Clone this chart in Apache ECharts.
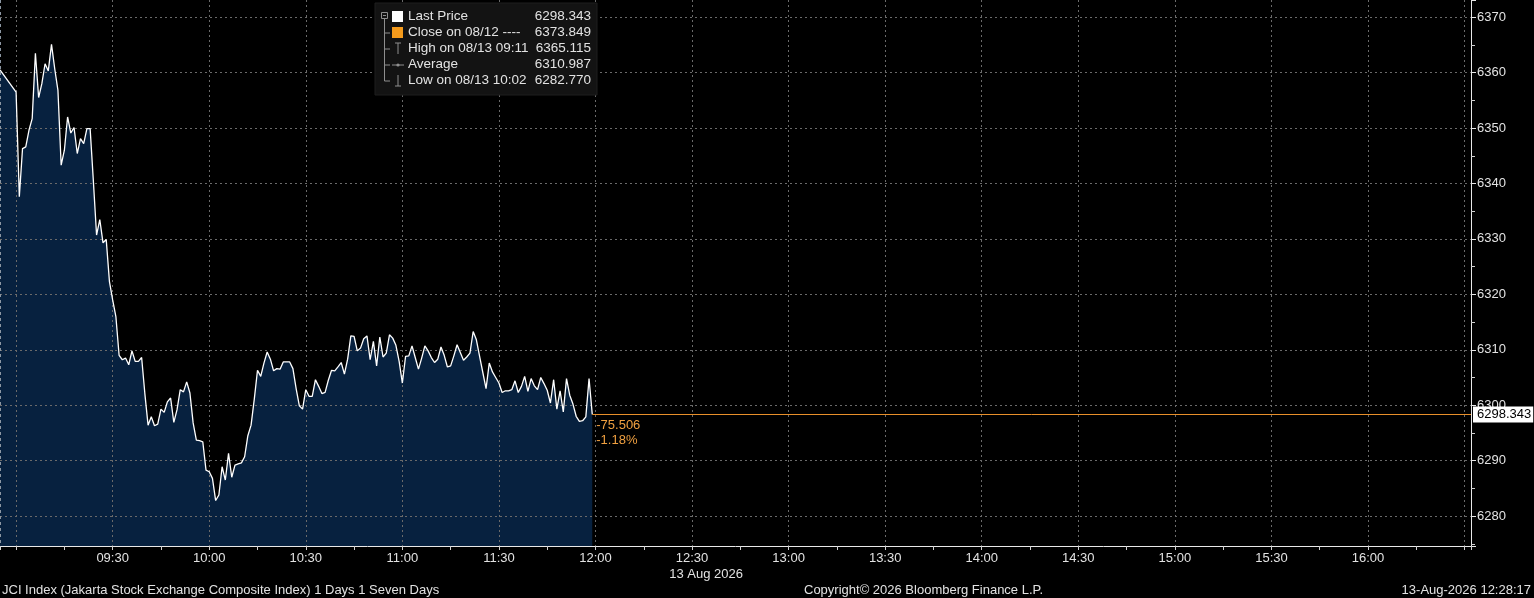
<!DOCTYPE html>
<html><head><meta charset="utf-8">
<script src="https://cdn.jsdelivr.net/npm/echarts@6/dist/echarts.min.js"></script>
<style>html,body{margin:0;padding:0;background:#000;overflow:hidden}#c{width:1534px;height:598px;}</style>
</head><body><div id="c"></div>
<script>
// ---- data ----
const times = [
"08:55","09:00","09:01","09:02","09:03","09:04","09:05","09:06","09:07","09:08","09:09",
"09:10","09:11","09:12","09:13","09:14","09:15","09:16","09:17","09:18","09:19",
"09:20","09:21","09:22","09:23","09:24","09:25","09:26","09:27","09:28","09:29",
"09:30","09:31","09:32","09:33","09:34","09:35","09:36","09:37","09:38","09:39",
"09:40","09:41","09:42","09:43","09:44","09:45","09:46","09:47","09:48","09:49",
"09:50","09:51","09:52","09:53","09:54","09:55","09:56","09:57","09:58","09:59",
"10:00","10:01","10:02","10:03","10:04","10:05","10:06","10:07","10:08","10:09",
"10:10","10:11","10:12","10:13","10:14","10:15","10:16","10:17","10:18","10:19",
"10:20","10:21","10:22","10:23","10:24","10:25","10:26","10:27","10:28","10:29",
"10:30","10:31","10:32","10:33","10:34","10:35","10:36","10:37","10:38","10:39",
"10:40","10:41","10:42","10:43","10:44","10:45","10:46","10:47","10:48","10:49",
"10:50","10:51","10:52","10:53","10:54","10:55","10:56","10:57","10:58","10:59",
"11:00","11:01","11:02","11:03","11:04","11:05","11:06","11:07","11:08","11:09",
"11:10","11:11","11:12","11:13","11:14","11:15","11:16","11:17","11:18","11:19",
"11:20","11:21","11:22","11:23","11:24","11:25","11:26","11:27","11:28","11:29",
"11:30","11:31","11:32","11:33","11:34","11:35","11:36","11:37","11:38","11:39",
"11:40","11:41","11:42","11:43","11:44","11:45","11:46","11:47","11:48","11:49",
"11:50","11:51","11:52","11:53","11:54","11:55","11:56","11:57","11:58","11:59"
];
const prices = [
6360.5,6356.5,6337.6,6346.3,6346.6,6349.6,6351.7,6363.5,6355.5,6358.0,6361.6,
6360.3,6365.1,6360.7,6356.8,6343.3,6346.0,6352.0,6349.1,6350.1,6345.4,
6348.1,6347.2,6349.9,6349.9,6340.5,6330.7,6333.5,6329.3,6329.9,6322.3,
6319.0,6316.0,6309.0,6308.2,6308.5,6307.3,6309.8,6307.9,6307.9,6308.6,
6302.1,6296.4,6297.9,6296.3,6296.6,6299.3,6298.7,6300.6,6301.3,6296.9,
6299.2,6302.8,6302.4,6304.2,6302.2,6296.8,6293.7,6293.6,6293.4,6288.3,
6288.0,6286.8,6282.8,6283.8,6288.9,6286.5,6291.3,6287.0,6289.2,6289.4,
6289.6,6290.7,6294.5,6296.4,6301.1,6306.3,6305.2,6307.6,6309.6,6308.3,
6306.2,6306.6,6306.5,6307.8,6307.8,6307.8,6306.6,6303.0,6299.9,6299.3,
6302.8,6301.6,6301.6,6304.6,6303.4,6302.1,6302.3,6304.5,6306.3,6306.2,
6306.9,6307.7,6305.6,6308.3,6312.5,6312.4,6309.8,6310.3,6312.0,6312.5,
6308.2,6311.5,6307.1,6312.3,6308.7,6309.4,6312.7,6312.1,6310.8,6307.9,
6304.0,6308.8,6308.9,6310.7,6308.6,6306.5,6308.5,6310.7,6309.8,6308.6,
6307.7,6308.3,6310.5,6309.0,6306.9,6307.1,6308.9,6310.9,6309.5,6308.1,
6308.7,6309.4,6313.3,6311.8,6308.8,6305.9,6303.0,6307.6,6306.0,6305.0,
6304.0,6302.3,6302.6,6302.6,6302.8,6304.4,6302.3,6303.4,6305.2,6302.5,
6304.8,6303.5,6302.8,6305.0,6303.9,6302.7,6300.4,6304.6,6299.3,6302.6,
6298.8,6304.8,6301.8,6300.2,6298.0,6297.1,6297.2,6297.9,6304.8,6298.343
];
const legendNames = ["Last Price","Close on 08/12 ----","High on 08/13 09:11","Average","Low on 08/13 10:02"];
const legendValues = [6298.343, 6373.849, 6365.115, 6310.987, 6282.770];
const prevClose = 6373.849;
const xRange = ["08:55","16:32"];
const xLabelRange = ["09:30","16:00"];
const yRange = [6274.6, 6373.1];
const dateLabel = "13 Aug 2026";
const dateTick = "12:30";
const footerLeft = "JCI Index (Jakarta Stock Exchange Composite Index) 1 Days 1 Seven Days";
const footerMid = "Copyright\u00a9 2026 Bloomberg Finance L.P.";
const footerRight = "13-Aug-2026 12:28:17";

// ---- helpers ----
const FONT = '"Liberation Sans", Arial, sans-serif';
const toMin = s => { const p = s.split(':').map(Number); return p[0]*60 + p[1]; };
const pad = n => (n < 10 ? '0' : '') + n;
const fmtMin = v => pad(Math.floor(v/60)) + ':' + pad(v % 60);
const pts = times.map((t, i) => [toMin(t), prices[i]]);
const xMin = toMin(xRange[0]), xMax = toMin(xRange[1]);
const lblMin = toMin(xLabelRange[0]), lblMax = toMin(xLabelRange[1]);
const lastT = pts[pts.length-1][0], lastP = pts[pts.length-1][1];
const chg = lastP - prevClose;
const pct = chg / prevClose * 100;

const txtCol = '#e2e2e2';
const gridCol = '#6a6a6a';

// legend graphic
const Z = 100;
const L = {x:375, y:3, w:222, h:92, r0:16.5, rh:16, tx:408, vx:591};
const ry = i => L.r0 + L.rh * i;
const treeCol = '#8f8f8f';
const legendEls = [
  {type:'rect', shape:{x:L.x, y:L.y, width:L.w, height:L.h}, style:{fill:'#131313', stroke:'#1e1e1e'}},
  {type:'rect', shape:{x:381.5, y:12.5, width:6, height:6}, style:{fill:'none', stroke:treeCol, lineWidth:1}},
  {type:'line', shape:{x1:383, y1:15.5, x2:386, y2:15.5}, style:{stroke:treeCol}},
  {type:'line', shape:{x1:384.5, y1:18.5, x2:384.5, y2:ry(4)+0.5}, style:{stroke:treeCol}},
  {type:'rect', shape:{x:392, y:ry(0)-5.5, width:11, height:11}, style:{fill:'#ffffff'}},
  {type:'rect', shape:{x:392, y:ry(1)-5.5, width:11, height:11}, style:{fill:'#f59b1c'}},
  {type:'line', shape:{x1:395, y1:ry(2)-5.5, x2:401, y2:ry(2)-5.5}, style:{stroke:treeCol}},
  {type:'line', shape:{x1:398, y1:ry(2)-5.5, x2:398, y2:ry(2)+5.5}, style:{stroke:treeCol}},
  {type:'line', shape:{x1:392, y1:ry(3)+0.5, x2:404, y2:ry(3)+0.5}, style:{stroke:treeCol}},
  {type:'circle', shape:{cx:398, cy:ry(3)+0.5, r:1.6}, style:{fill:treeCol}},
  {type:'line', shape:{x1:398, y1:ry(4)-5.5, x2:398, y2:ry(4)+5.5}, style:{stroke:treeCol}},
  {type:'line', shape:{x1:395, y1:ry(4)+5.5, x2:401, y2:ry(4)+5.5}, style:{stroke:treeCol}}
];
for (let i = 1; i < 5; i++) {
  legendEls.push({type:'line', shape:{x1:384.5, y1:ry(i)+0.5, x2:390, y2:ry(i)+0.5}, style:{stroke:treeCol}});
}
legendNames.forEach((n, i) => {
  legendEls.push({type:'text', x:L.tx, y:ry(i), style:{text:n, fill:txtCol, font:'13.5px ' + FONT, textVerticalAlign:'middle'}});
  legendEls.push({type:'text', x:L.vx, y:ry(i), style:{text:legendValues[i].toFixed(3), fill:txtCol, font:'13.5px ' + FONT, textAlign:'right', textVerticalAlign:'middle'}});
});
legendEls.forEach((e, i) => { e.z = Z; e.z2 = i; });

const chart = echarts.init(document.getElementById('c'), null, {renderer:'canvas'});
chart.setOption({
  backgroundColor:'#000',
  animation:false,
  grid:{left:0, right:63, top:0, bottom:52, containLabel:false},
  xAxis:{
    type:'value', min:xMin, max:xMax, minInterval:30, maxInterval:30, splitNumber:15, z:3,
    axisLine:{show:true, lineStyle:{color:'#e8e8e8', width:1}},
    axisTick:{show:true, length:4, lineStyle:{color:'#d0d0d0'}},
    minorTick:{show:true, splitNumber:2, length:4, lineStyle:{color:'#d0d0d0'}},
    splitLine:{show:true, showMinLine:false, showMaxLine:false, lineStyle:{color:gridCol, type:[2,3], width:1}},
    axisLabel:{
      margin:4, color:txtCol, fontSize:13, fontFamily:FONT, lineHeight:16,
      showMinLabel:false, showMaxLabel:false,
      formatter: v => {
        if (v % 30 !== 0 || v < lblMin || v > lblMax) return '';
        const s = fmtMin(v);
        if (s === dateTick) return '{t|' + s + '}\n{d|' + dateLabel + '}';
        return s;
      },
      rich:{
        t:{color:txtCol, fontSize:13, fontFamily:FONT, lineHeight:16},
        d:{color:txtCol, fontSize:13, fontFamily:FONT, lineHeight:16, padding:[0,0,0,28]}
      }
    }
  },
  yAxis:{
    type:'value', position:'right', min:yRange[0], max:yRange[1], minInterval:10, maxInterval:10, splitNumber:10, z:3,
    axisLine:{show:true, lineStyle:{color:'#e8e8e8', width:1}},
    axisTick:{show:true, length:5, lineStyle:{color:'#e8e8e8'}},
    minorTick:{show:true, splitNumber:2, length:4, lineStyle:{color:'#d0d0d0'}},
    splitLine:{show:true, showMinLine:false, showMaxLine:false, lineStyle:{color:gridCol, type:[2,3], width:1}},
    axisLabel:{margin:6, color:txtCol, fontSize:13, fontFamily:FONT, showMinLabel:false, showMaxLabel:false,
      formatter: v => (Math.abs(v % 10) < 1e-6 ? String(v) : '')}
  },
  series:[
    {type:'line', data:pts, showSymbol:false, silent:true, z:1,
     lineStyle:{width:0, opacity:0}, areaStyle:{color:'#07213f', opacity:1}},
    {type:'line', data:pts, showSymbol:false, silent:true, z:5,
     lineStyle:{color:'#ffffff', width:1.3},
     markLine:{
       silent:true, symbol:['none','none'], animation:false, z:6,
       data:[
         [{coord:[lastT, lastP],
           lineStyle:{color:'#e88f2a', width:1, type:'solid'},
           label:{show:true, position:'insideStartBottom', distance:4,
             formatter: chg.toFixed(3) + '\n' + pct.toFixed(2) + '%',
             color:'#f0a040', fontSize:13, fontFamily:FONT, lineHeight:15}},
          {coord:[xMax, lastP]}],
         [{coord:[lastT, lastP],
           lineStyle:{color:'rgba(0,0,0,0)', width:0},
           label:{show:true, position:'end', distance:2,
             formatter: lastP.toFixed(3),
             color:'#000', backgroundColor:'#fff', padding:[2,2,1,4],
             fontSize:13, fontFamily:FONT}},
          {coord:[xMax, lastP]}]
       ]
     }}
  ],
  graphic:{elements:[
    {type:'line', z:Z, shape:{x1:0.5, y1:0, x2:0.5, y2:546}, style:{stroke:'#8c97a3', lineDash:[3,3]}},
    {type:'group', z:Z, children:legendEls},
    {type:'text', z:Z, x:2, y:590, style:{text:footerLeft, fill:txtCol, font:'13px ' + FONT, textVerticalAlign:'middle'}},
    {type:'text', z:Z, x:804, y:590, style:{text:footerMid, fill:txtCol, font:'13px ' + FONT, textVerticalAlign:'middle'}},
    {type:'text', z:Z, x:1531, y:590, style:{text:footerRight, fill:txtCol, font:'13px ' + FONT, textAlign:'right', textVerticalAlign:'middle'}}
  ]}
});
</script></body></html>
